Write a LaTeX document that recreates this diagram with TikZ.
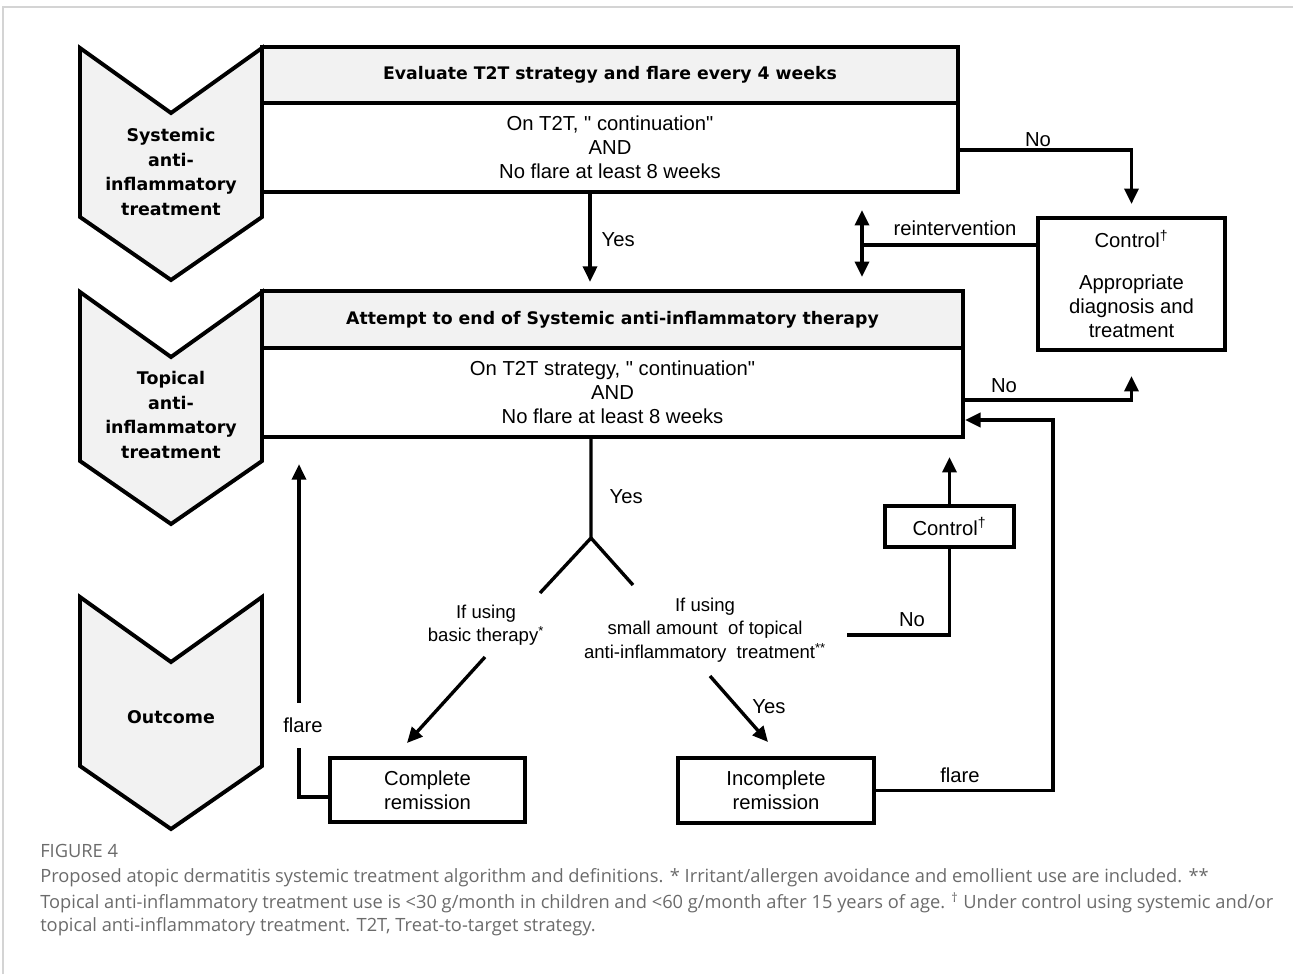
\documentclass[tikz,border=0pt]{standalone}
\usepackage{fontspec}
\setmainfont{Liberation Sans}
\newfontfamily\plainfont{Liberation Sans}
\newfontfamily\headfont{DejaVu Sans}
\newfontfamily\capfont{Open Sans}
\usetikzlibrary{arrows.meta}
\definecolor{headgray}{HTML}{F2F2F2}
\definecolor{capgray}{HTML}{6B6B6B}
\definecolor{framegray}{HTML}{D4D4D4}
\newcommand{\sq}{{\plainfont\symbol{34}}}

\begin{document}
\begin{tikzpicture}[x=0.025cm,y=-0.025cm,
  line/.style={line width=2.4pt},
  arr/.style={line width=2.4pt,-{Triangle[length=11pt,width=10pt]}},
  arrboth/.style={line width=2.4pt,{Triangle[length=11pt,width=10pt]}-{Triangle[length=11pt,width=10pt]}},
  box/.style={draw,line width=2.8pt,inner sep=0pt,align=center,font=\fontsize{14.4}{17}\selectfont},
  headbox/.style={box,fill=headgray,font=\headfont\bfseries\fontsize{12.3}{14}\selectfont},
  chev/.style={draw,line width=2.8pt,fill=headgray,line join=miter},
  chevtext/.style={align=center,font=\headfont\bfseries\fontsize{12.4}{17.7}\selectfont},
  lbl/.style={inner sep=1pt,font=\fontsize{14.4}{17}\selectfont},
  cond/.style={inner sep=1pt,align=center,font=\fontsize{13.2}{16.6}\selectfont},
  captext/.style={anchor=west,inner sep=0pt,text=capgray,font=\capfont\fontsize{13}{15}\selectfont}]
\useasboundingbox (0,0) rectangle (1293,974);
\draw[framegray,line width=1.4pt] (3,974) -- (3,7) -- (1293,7);

% stage arrows on the left
\foreach \t in {48,292,597}
  \draw[chev] (80,\t) -- (171,\t+65) -- (262,\t) -- (262,\t+169) -- (171,\t+232) -- (80,\t+169) -- cycle;
\node[chevtext] (systemic) at (171,172) {Systemic\\anti-\\inflammatory\\treatment};
\node[chevtext] (topical) at (171,415) {Topical\\anti-\\inflammatory\\treatment};
\node[chevtext] (outcome) at (171,717) {Outcome};

% boxes
\node[headbox,minimum width=17.4cm,minimum height=1.4cm] (evalhead) at (610,75) {Evaluate T2T strategy and flare every 4 weeks};
\node[box,minimum width=17.4cm,minimum height=2.225cm] (evalbody) at (610,147.5) {On T2T, \sq\ continuation\sq\\AND\\No flare at least 8 weeks};
\node[headbox,minimum width=17.525cm,minimum height=1.425cm] (attempthead) at (612.5,319.5) {Attempt to end of Systemic anti-inflammatory therapy};
\node[box,minimum width=17.525cm,minimum height=2.225cm] (attemptbody) at (612.5,392.5) {On T2T strategy, \sq\ continuation\sq\\AND\\No flare at least 8 weeks};
\node[box,minimum width=4.675cm,minimum height=3.3cm] (control) at (1131.5,284) {Control\textsuperscript{†}\\[13pt]Appropriate\\diagnosis and\\treatment};
\node[box,minimum width=3.225cm,minimum height=1.025cm] (smallctrl) at (949.5,526.5) {Control\textsuperscript{†}};
\node[box,minimum width=4.875cm,minimum height=1.6cm] (complete) at (427.5,790) {Complete\\remission};
\node[box,minimum width=4.9cm,minimum height=1.625cm] (incomplete) at (776,790.5) {Incomplete\\remission};
\node[cond] (basic) at (486,625) {If using\\basic therapy\textsuperscript{*}};
\node[cond] (small) at (705,630) {If using\\small amount\ \ of topical\\anti-inflammatory\ \ treatment\textsuperscript{**}};

% turning points
\coordinate (yesx) at (590,240);
\coordinate (reint) at (862,245);
\coordinate (reintup) at (862,210);
\coordinate (reintdn) at (862,277);
\coordinate (no2y) at (963,400);
\coordinate (fork) at (591,538);
\coordinate (forkl) at (540,593);
\coordinate (forkr) at (633,585);
\coordinate (bas1) at (485,657);
\coordinate (bas2) at (407,743);
\coordinate (sm1) at (710,676);
\coordinate (sm2) at (768,742);
\coordinate (no3) at (847,635);
\coordinate (flc) at (299,797);
\coordinate (flr) at (1053,420);

% connectors
\draw[arr,shorten >=0.18cm] (evalbody.south -| yesx) -- (attempthead.north -| yesx);
\node[lbl,anchor=west] (yes1) at (600,240) {Yes};
\draw[arr,shorten >=0.3cm] ([yshift=-0.06cm]evalbody.east) -| (control.north);
\node[lbl] (no1) at (1038,140) {No};
\draw[line] (control.west |- reint) -- (reint);
\draw[arrboth] (reintup) -- (reintdn);
\node[lbl] (reinttext) at (955,228) {reintervention};
\draw[arr,shorten >=0.6cm] (attemptbody.east |- no2y) -| (control.south);
\node[lbl] (no2) at (1004,386) {No};
\draw[line] (attemptbody.south -| fork) -- (fork) -- (forkl);
\draw[line] (fork) -- (forkr);
\node[lbl,anchor=west] (yes2) at (608,497) {Yes};
\draw[arr] (bas1) -- (bas2);
\draw[arr] (sm1) -- (sm2);
\node[lbl] (yes3) at (769,707) {Yes};
\draw[line] (no3) -| (smallctrl.south);
\node[lbl] (no4) at (912,620) {No};
\draw[arr,shorten >=0.45cm] (smallctrl.north) -- (smallctrl.north |- attemptbody.south);
\draw[arr] (incomplete.east) -| (flr) -- (attemptbody.east |- flr);
\node[lbl] (flare1) at (960,775) {flare};
\draw[arr,shorten >=0.63cm] (complete.west |- flc) -- (flc) -- node[pos=0.2,fill=white,inner xsep=1pt,inner ysep=11pt,font=\fontsize{14.4}{17}\selectfont,xshift=0.1cm] (flare2) {flare} (flc |- attemptbody.south);

% caption
\node[captext] (figno) at (40,851) {FIGURE 4};
\node[captext] (cap1) at (40,878) {Proposed atopic dermatitis systemic treatment algorithm and definitions. * Irritant/allergen avoidance and emollient use are included. **};
\node[captext] (cap2) at (40,903) {Topical anti-inflammatory treatment use is <30 g/month in children and <60 g/month after 15 years of age. \textsuperscript{†} Under control using systemic and/or};
\node[captext] (cap3) at (40,927) {topical anti-inflammatory treatment. T2T, Treat-to-target strategy.};
\end{tikzpicture}
\end{document}
